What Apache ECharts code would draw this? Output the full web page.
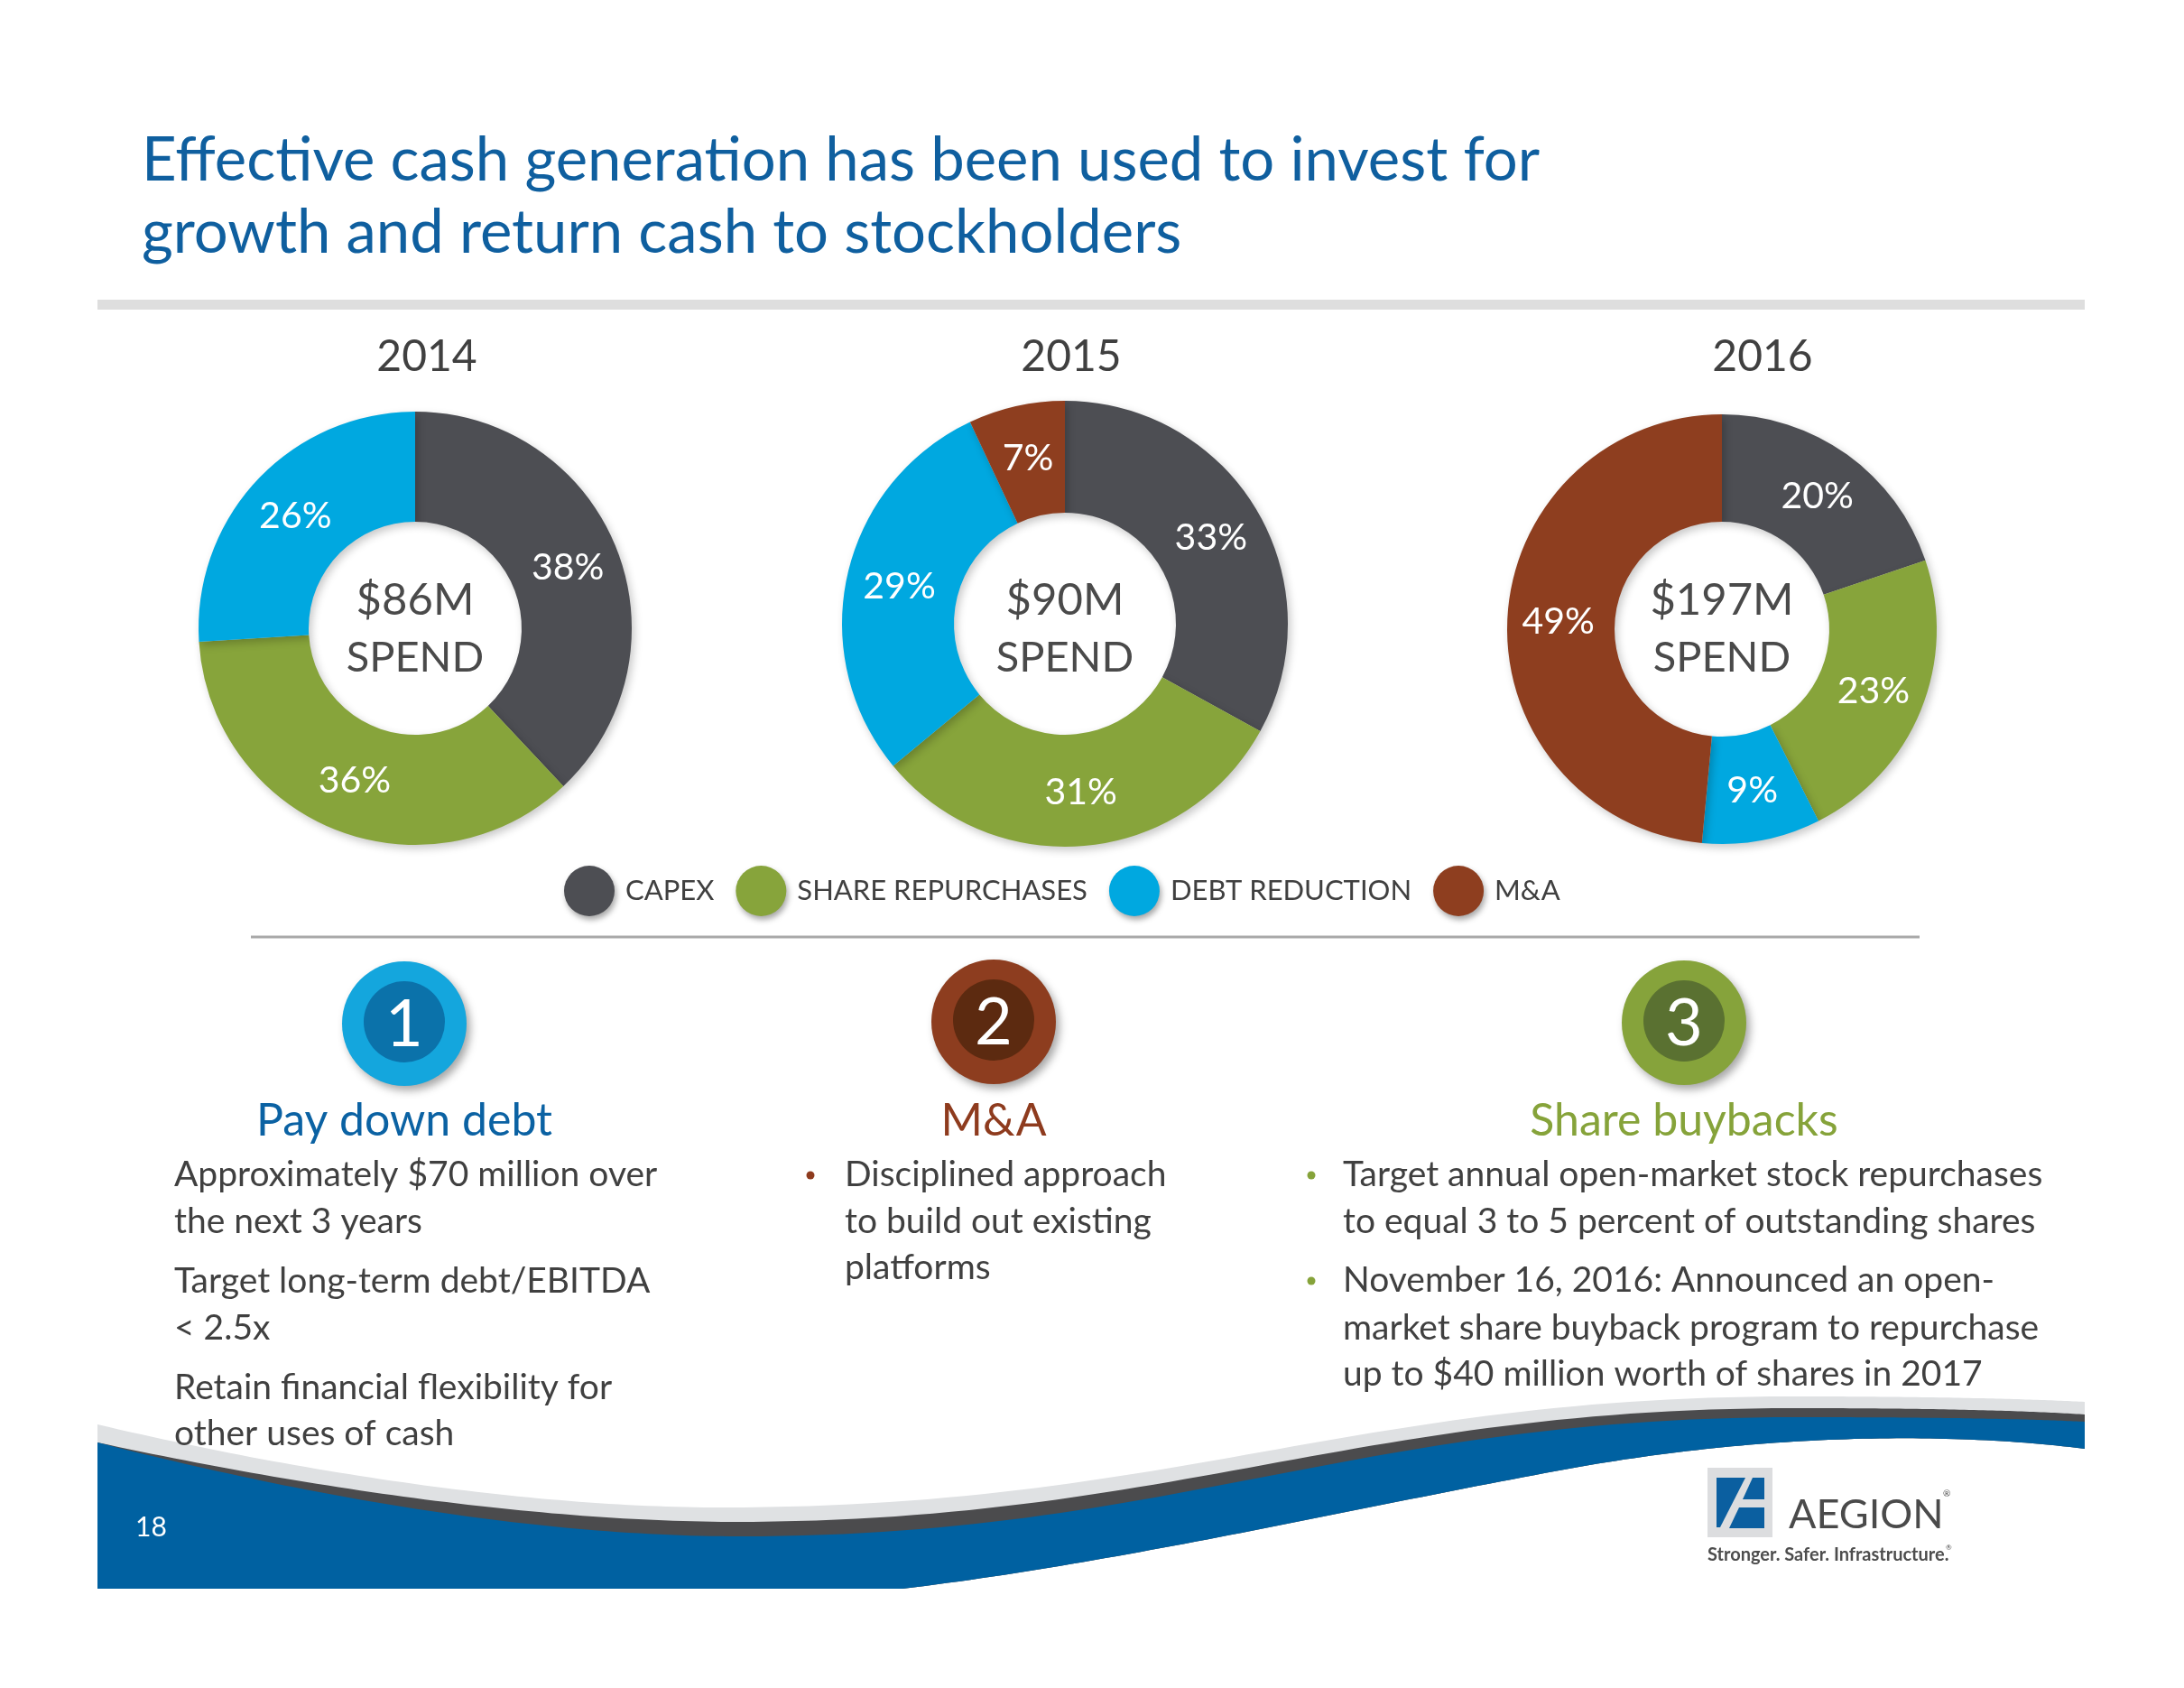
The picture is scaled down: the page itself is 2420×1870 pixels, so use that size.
<!DOCTYPE html>
<html>
<head>
<meta charset="utf-8">
<script src="https://cdn.jsdelivr.net/npm/echarts@6/dist/echarts.min.js"></script>
<style>
  html, body { margin: 0; padding: 0; background: #ffffff; }
  #chart { width: 2420px; height: 1870px; }
</style>
</head>
<body>
<div id="chart"></div>
<script>
// ---------------- DATA ----------------
const years = ['2014', '2015', '2016'];
const spendLabels = ['$86M', '$90M', '$197M'];
const categories = ['CAPEX', 'SHARE REPURCHASES', 'DEBT REDUCTION', 'M&A'];
const capexPct = [38, 33, 20];
const shareRepurchasePct = [36, 31, 23];
const debtReductionPct = [26, 29, 9];
const maPct = [null, 7, 49];

const titleLines = [
  'Effective cash generation has been used to invest for',
  'growth and return cash to stockholders'
];
const headings = ['Pay down debt', 'M&A', 'Share buybacks'];
const numbers = ['1', '2', '3'];
const col1Lines = [
  'Approximately $70 million over', 'the next 3 years',
  'Target long-term debt/EBITDA', '< 2.5x',
  'Retain financial flexibility for', 'other uses of cash'
];
const col2Lines = ['Disciplined approach', 'to build out existing', 'platforms'];
const col3Lines = [
  'Target annual open-market stock repurchases',
  'to equal 3 to 5 percent of outstanding shares',
  'November 16, 2016: Announced an open-',
  'market share buyback program to repurchase',
  'up to $40 million worth of shares in 2017'
];
const pageNumber = '18';

// ---------------- LAYOUT / STYLE ----------------
const FONT = 'Lato, "Open Sans", sans-serif';
const catColors = { 'CAPEX': '#4d4e53', 'SHARE REPURCHASES': '#87a43b', 'DEBT REDUCTION': '#00a8e0', 'M&A': '#8e3e1f' };
const pieCenters = [[460, 696], [1180, 691], [1908, 697]];
const pieRadii = [[118, 240], [123, 247], [119, 238]];
const yearX = [473, 1187, 1953];
const textDark = '#404040';

const seriesValues = [capexPct, shareRepurchasePct, debtReductionPct, maPct];

const series = years.map((y, i) => ({
  type: 'pie',
  name: y,
  center: pieCenters[i],
  radius: pieRadii[i],
  startAngle: 90,
  clockwise: true,
  animation: false,
  emphasis: { scale: false, disabled: true },
  labelLine: { show: false },
  label: {
    show: true, position: 'inside', formatter: '{c}%',
    color: '#ffffff', fontSize: 41, fontFamily: FONT
  },
  itemStyle: {
    borderWidth: 0,
    shadowBlur: 10, shadowOffsetX: 3, shadowOffsetY: 4, shadowColor: 'rgba(0,0,0,0.22)'
  },
  data: categories
    .map((c, k) => ({ name: c, value: seriesValues[k][i], itemStyle: { color: catColors[c] } }))
    .filter(d => d.value != null && d.value > 0)
}));

// ---------------- GRAPHICS ----------------
const g = [];
function txt(x, y, text, size, color, align, weight) {
  g.push({
    type: 'text', x: x, y: y, z: 10,
    style: {
      text: text, font: (weight ? weight + ' ' : '') + size + 'px ' + FONT, fill: color,
      textAlign: align || 'left', textVerticalAlign: 'middle'
    }
  });
}

// title
txt(157, 178, titleLines[0], 67, '#0f5f9f');
txt(157, 258, titleLines[1], 67, '#0f5f9f');
g.push({ type: 'rect', z: 5, shape: { x: 108, y: 332, width: 2202, height: 11 }, style: { fill: '#dedede' } });

// year labels and center labels
years.forEach((y, i) => {
  txt(yearX[i], 396, y, 48, textDark, 'center');
  txt(pieCenters[i][0], 665, spendLabels[i], 49, '#4a4a4a', 'center');
  txt(pieCenters[i][0], 729, 'SPEND', 47, '#4a4a4a', 'center');
});

// divider
g.push({ type: 'line', z: 5, shape: { x1: 278, y1: 1038, x2: 2127, y2: 1038 }, style: { stroke: '#a9a9a9', lineWidth: 3 } });

// numbered circles
const numCenters = [[448, 1134], [1101, 1132], [1866, 1133]];
const numOuter = ['#14a6dd', '#8d3d1f', '#86a33b'];
const numInner = ['#0b72aa', '#5c2a10', '#5a7131'];
const headColors = ['#0b62a3', '#8e3b1e', '#86a33a'];
numCenters.forEach((c, i) => {
  g.push({ type: 'circle', z: 6, shape: { cx: c[0], cy: c[1], r: 69 },
    style: { fill: numOuter[i], shadowBlur: 10, shadowOffsetX: 4, shadowOffsetY: 5, shadowColor: 'rgba(0,0,0,0.35)' } });
  g.push({ type: 'circle', z: 7, shape: { cx: c[0], cy: c[1] - 2, r: 45 }, style: { fill: numInner[i] } });
  txt(c[0], c[1] + 2, numbers[i], 72, '#ffffff', 'center');
  txt(c[0], 1242, headings[i], 50, headColors[i], 'center');
});

// body text
const BODY = 39;
const col1Y = [1301, 1353, 1419, 1471, 1537, 1588];
col1Lines.forEach((t, k) => txt(193, col1Y[k], t, BODY, textDark, 'left'));
const col2Y = [1301, 1353, 1404];
col2Lines.forEach((t, k) => txt(936, col2Y[k], t, BODY, textDark, 'left'));
const col3Y = [1301, 1353, 1418, 1471, 1522];
col3Lines.forEach((t, k) => txt(1488, col3Y[k], t, BODY, textDark, 'left'));
g.push({ type: 'circle', z: 10, shape: { cx: 898, cy: 1302, r: 4.5 }, style: { fill: '#8e3b1e' } });
g.push({ type: 'circle', z: 10, shape: { cx: 1453, cy: 1302, r: 4.5 }, style: { fill: '#86a33a' } });
g.push({ type: 'circle', z: 10, shape: { cx: 1453, cy: 1419, r: 4.5 }, style: { fill: '#86a33a' } });

// bottom wave (sampled cubic curves -> polygons)
function sampleCubic(start, segs, n) {
  const pts = [];
  let p0 = start;
  segs.forEach(s => {
    const [p1, p2, p3] = s;
    for (let i = 1; i <= n; i++) {
      const t = i / n, u = 1 - t;
      const a = u * u * u, b = 3 * u * u * t, c = 3 * u * t * t, d = t * t * t;
      pts.push([a * p0[0] + b * p1[0] + c * p2[0] + d * p3[0], a * p0[1] + b * p1[1] + c * p2[1] + d * p3[1]]);
    }
    p0 = p3;
  });
  return pts;
}
const bottomStart = [2310, 1605];
const bottomSegs = [[[2150, 1585], [1950, 1590], [1750, 1625]], [[1500, 1670], [1250, 1730], [1000, 1760]]];
function wave(topStart, topSegs) {
  return [[108, 1760], topStart]
    .concat(sampleCubic(topStart, topSegs, 60))
    .concat([bottomStart])
    .concat(sampleCubic(bottomStart, bottomSegs, 60));
}
g.push({ type: 'polygon', z: 1, shape: { points: wave([108, 1578], [[[350, 1635], [600, 1670], [800, 1670]], [[1300, 1670], [1500, 1547], [1986, 1547]], [[2150, 1547], [2250, 1550], [2310, 1553]]]) }, style: { fill: '#dfe1e3' } });
g.push({ type: 'polygon', z: 2, shape: { points: wave([108, 1598], [[[350, 1650], [600, 1685], [810, 1686]], [[1300, 1686], [1500, 1560], [1988, 1560]], [[2150, 1560], [2250, 1563], [2310, 1567]]]) }, style: { fill: '#4b4b4d' } });
g.push({ type: 'polygon', z: 3, shape: { points: wave([108, 1598], [[[350, 1660], [600, 1702], [820, 1702]], [[1300, 1702], [1500, 1570], [1990, 1570]], [[2150, 1570], [2250, 1572], [2310, 1575]]]) }, style: { fill: '#0061a1' } });
txt(150, 1692, pageNumber, 30, '#ffffff', 'left');

// logo
g.push({ type: 'rect', z: 5, shape: { x: 1892, y: 1626, width: 72, height: 77 }, style: { fill: '#dcdddf' } });
g.push({ type: 'polygon', z: 6, shape: { points: [[1902, 1637], [1934, 1637], [1906, 1692], [1902, 1692]] }, style: { fill: '#0b5fa0' } });
g.push({ type: 'polygon', z: 6, shape: { points: [[1942, 1637], [1955, 1637], [1955, 1661], [1931, 1661]] }, style: { fill: '#0b5fa0' } });
g.push({ type: 'polygon', z: 6, shape: { points: [[1927, 1670], [1955, 1670], [1955, 1693], [1916, 1693]] }, style: { fill: '#0b5fa0' } });
txt(1982, 1678, 'AEGION', 45, '#4a4a4a', 'left');
txt(2153, 1655, '®', 10, '#4a4a4a', 'left');
txt(1892, 1723, 'Stronger. Safer. Infrastructure.', 20, '#4d4d4d', 'left', 'bold');
txt(2156, 1714, '®', 8, '#4d4d4d', 'left');

const option = {
  backgroundColor: '#ffffff',
  animation: false,
  legend: {
    data: categories,
    left: 620, top: 954,
    orient: 'horizontal',
    icon: 'circle',
    itemWidth: 56, itemHeight: 56,
    itemGap: 24,
    selectedMode: false,
    itemStyle: { shadowBlur: 6, shadowOffsetX: 2, shadowOffsetY: 4, shadowColor: 'rgba(0,0,0,0.35)' },
    textStyle: { fontSize: 31, fontFamily: FONT, color: textDark, padding: [0, 0, 0, 7] }
  },
  series: series,
  graphic: { elements: g }
};

const chart = echarts.init(document.getElementById('chart'), null, { renderer: 'canvas' });
chart.setOption(option);
</script>
</body>
</html>
